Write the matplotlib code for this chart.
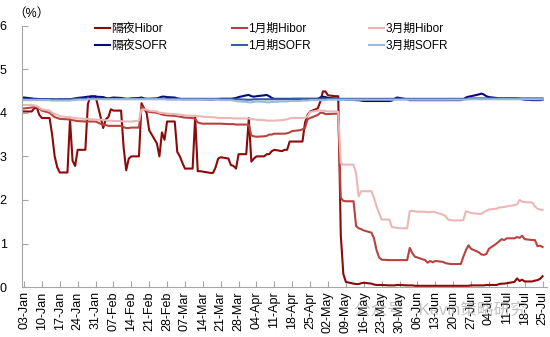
import matplotlib
matplotlib.use('Agg')
import matplotlib.pyplot as plt
import matplotlib.dates as mdates
import pandas as pd

plt.rcParams['font.family'] = ['Liberation Sans', 'Noto Sans CJK SC', 'DejaVu Sans']

# business days, 03-Jan-2025 .. 25-Jul-2025
dates = pd.bdate_range('2025-01-03', '2025-07-25')

hibor_on = [
    4.03, 4.03, 4.10, 4.12, 3.95, 3.88, 3.88, 3.50, 3.00, 2.75,
    2.63, 2.63, 3.85, 2.90, 2.78, 3.15, 3.15, 4.20, 4.38, 4.38,
    4.38, 3.65, 3.85, 3.90, 4.08, 4.05, 4.05, 3.20, 2.68, 2.95,
    3.00, 3.00, 4.22, 4.10, 4.00, 3.60, 3.30, 3.00, 3.55, 3.38,
    3.80, 3.80, 3.10, 3.00, 2.85, 2.72, 2.72, 3.90, 2.66, 2.66,
    2.65, 2.62, 2.62, 2.75, 2.95, 2.98, 2.95, 2.80, 2.78, 2.72,
    3.05, 3.05, 3.88, 2.88, 2.95, 3.00, 3.00, 3.05, 3.05, 3.12,
    3.15, 3.12, 3.15, 3.15, 3.34, 3.34, 3.34, 3.34, 3.77, 3.95,
    4.03, 4.10, 4.26, 4.49, 4.49, 4.40, 4.38, 4.38, 1.20, 0.30,
    0.12, 0.08, 0.07, 0.07, 0.09, 0.10, 0.08, 0.06, 0.05, 0.05,
    0.05, 0.04, 0.04, 0.04, 0.05, 0.05, 0.04, 0.04, 0.04, 0.03,
    0.03, 0.03, 0.03, 0.03, 0.03, 0.03, 0.03, 0.03, 0.03, 0.03,
    0.03, 0.03, 0.03, 0.03, 0.03, 0.04, 0.04, 0.04, 0.04, 0.05,
    0.05, 0.05, 0.07, 0.08, 0.08, 0.09, 0.12, 0.20, 0.14, 0.17,
    0.13, 0.13, 0.15, 0.16, 0.19, 0.25,
]
hibor_1m = [
    4.10, 4.12, 4.13, 4.13, 4.10, 4.05, 4.00, 3.95, 3.90, 3.88,
    3.86, 3.85, 3.84, 3.83, 3.82, 3.81, 3.80, 3.80, 3.80, 3.80,
    3.80, 3.72, 3.72, 3.70, 3.70, 3.70, 3.70, 3.67, 3.65, 3.65,
    3.66, 3.66, 4.15, 4.08, 4.05, 4.02, 4.00, 3.98, 3.96, 3.95,
    3.94, 3.93, 3.92, 3.91, 3.90, 3.89, 3.88, 3.86, 3.78, 3.76,
    3.75, 3.75, 3.75, 3.75, 3.75, 3.75, 3.74, 3.74, 3.74, 3.73,
    3.73, 3.73, 3.72, 3.48, 3.46, 3.45, 3.46, 3.47, 3.50, 3.50,
    3.52, 3.52, 3.52, 3.53, 3.55, 3.58, 3.60, 3.62, 3.65, 3.85,
    3.88, 3.95, 4.00, 4.00, 3.97, 3.97, 3.98, 3.98, 2.05, 1.98,
    1.97, 1.97, 1.40, 1.35, 1.33, 1.30, 1.25, 1.12, 0.85, 0.68,
    0.63, 0.62, 0.62, 0.62, 0.62, 0.62, 0.62, 0.90, 0.78, 0.70,
    0.68, 0.62, 0.56, 0.60, 0.57, 0.60, 0.58, 0.55, 0.54, 0.53,
    0.53, 0.53, 0.70, 0.85, 0.96, 0.88, 0.80, 0.75, 0.74, 0.76,
    0.88, 1.00, 1.05, 1.10, 1.08, 1.12, 1.12, 1.15, 1.13, 1.18,
    1.10, 1.08, 1.08, 0.94, 0.95, 0.92,
]
hibor_3m = [
    4.18, 4.18, 4.17, 4.15, 4.12, 4.08, 4.05, 4.00, 3.97, 3.95,
    3.92, 3.90, 3.90, 3.89, 3.88, 3.87, 3.86, 3.86, 3.85, 3.85,
    3.84, 3.84, 3.83, 3.82, 3.82, 3.81, 3.81, 3.80, 3.80, 3.80,
    3.80, 3.82, 4.07, 4.08, 4.07, 4.05, 4.03, 4.00, 4.00, 3.99,
    3.98, 3.97, 3.96, 3.95, 3.95, 3.94, 3.93, 3.93, 3.92, 3.92,
    3.91, 3.90, 3.90, 3.89, 3.88, 3.88, 3.88, 3.88, 3.87, 3.87,
    3.87, 3.87, 3.87, 3.86, 3.85, 3.84, 3.83, 3.82, 3.82, 3.82,
    3.82, 3.83, 3.84, 3.85, 3.87, 3.88, 3.88, 3.88, 3.88, 3.92,
    4.02, 4.05, 4.05, 4.05, 4.04, 4.03, 4.03, 4.02, 2.85, 2.81,
    2.81, 2.81, 2.60, 2.08, 2.20, 2.20, 2.20, 2.05, 1.85, 1.70,
    1.55, 1.55, 1.38, 1.37, 1.36, 1.35, 1.35, 1.74, 1.75, 1.74,
    1.73, 1.73, 1.72, 1.72, 1.73, 1.72, 1.66, 1.63, 1.55, 1.54,
    1.53, 1.53, 1.54, 1.74, 1.72, 1.70, 1.68, 1.68, 1.72, 1.75,
    1.78, 1.80, 1.83, 1.83, 1.84, 1.85, 1.88, 1.90, 2.00, 1.96,
    1.95, 1.94, 1.85, 1.80, 1.78, 1.77,
]
sofr_on = [
    4.35, 4.33, 4.32, 4.32, 4.31, 4.31, 4.31, 4.31, 4.30, 4.30,
    4.31, 4.31, 4.31, 4.32, 4.33, 4.34, 4.36, 4.37, 4.37, 4.37,
    4.37, 4.36, 4.34, 4.33, 4.34, 4.35, 4.34, 4.33, 4.32, 4.32,
    4.33, 4.34, 4.35, 4.33, 4.32, 4.32, 4.33, 4.35, 4.37, 4.37,
    4.36, 4.35, 4.33, 4.32, 4.31, 4.31, 4.31, 4.31, 4.31, 4.31,
    4.31, 4.30, 4.30, 4.31, 4.31, 4.32, 4.32, 4.32, 4.33, 4.34,
    4.36, 4.40, 4.41, 4.38, 4.37, 4.38, 4.40, 4.41, 4.38, 4.34,
    4.32, 4.32, 4.32, 4.32, 4.32, 4.32, 4.32, 4.32, 4.32, 4.32,
    4.32, 4.32, 4.35, 4.37, 4.36, 4.34, 4.33, 4.32, 4.31, 4.31,
    4.30, 4.30, 4.29, 4.29, 4.28, 4.27, 4.27, 4.27, 4.27, 4.27,
    4.27, 4.27, 4.28, 4.32, 4.35, 4.34, 4.31, 4.29, 4.29, 4.29,
    4.29, 4.29, 4.29, 4.29, 4.29, 4.29, 4.29, 4.29, 4.29, 4.29,
    4.29, 4.29, 4.31, 4.35, 4.37, 4.38, 4.42, 4.44, 4.42, 4.38,
    4.36, 4.34, 4.33, 4.33, 4.33, 4.33, 4.33, 4.33, 4.32, 4.31,
    4.30, 4.29, 4.29, 4.29, 4.29, 4.30,
]
sofr_1m = [
    4.31, 4.31, 4.31, 4.31, 4.31, 4.31, 4.31, 4.31, 4.31, 4.31,
    4.31, 4.31, 4.31, 4.31, 4.32, 4.32, 4.32, 4.32, 4.32, 4.32,
    4.32, 4.32, 4.32, 4.32, 4.32, 4.32, 4.32, 4.32, 4.32, 4.32,
    4.32, 4.32, 4.32, 4.32, 4.32, 4.32, 4.32, 4.32, 4.32, 4.32,
    4.32, 4.32, 4.32, 4.32, 4.32, 4.32, 4.32, 4.32, 4.32, 4.32,
    4.32, 4.32, 4.32, 4.32, 4.32, 4.32, 4.32, 4.32, 4.31, 4.31,
    4.31, 4.30, 4.30, 4.30, 4.31, 4.31, 4.31, 4.31, 4.31, 4.31,
    4.31, 4.31, 4.31, 4.31, 4.31, 4.32, 4.32, 4.32, 4.32, 4.32,
    4.32, 4.32, 4.32, 4.32, 4.32, 4.32, 4.32, 4.32, 4.32, 4.32,
    4.32, 4.32, 4.32, 4.32, 4.32, 4.32, 4.32, 4.32, 4.32, 4.32,
    4.32, 4.32, 4.32, 4.32, 4.32, 4.32, 4.32, 4.32, 4.32, 4.32,
    4.32, 4.32, 4.32, 4.32, 4.32, 4.32, 4.32, 4.32, 4.32, 4.32,
    4.32, 4.32, 4.32, 4.32, 4.33, 4.33, 4.33, 4.33, 4.33, 4.33,
    4.33, 4.33, 4.33, 4.33, 4.33, 4.33, 4.33, 4.33, 4.33, 4.33,
    4.33, 4.33, 4.33, 4.33, 4.33, 4.33,
]
sofr_3m = [
    4.29, 4.29, 4.29, 4.29, 4.29, 4.29, 4.29, 4.28, 4.28, 4.28,
    4.28, 4.28, 4.28, 4.29, 4.29, 4.30, 4.30, 4.31, 4.31, 4.31,
    4.31, 4.31, 4.31, 4.31, 4.31, 4.31, 4.31, 4.31, 4.31, 4.31,
    4.31, 4.31, 4.31, 4.31, 4.31, 4.31, 4.31, 4.31, 4.31, 4.31,
    4.30, 4.30, 4.30, 4.30, 4.30, 4.30, 4.30, 4.30, 4.30, 4.30,
    4.30, 4.30, 4.30, 4.30, 4.30, 4.29, 4.29, 4.29, 4.28, 4.27,
    4.26, 4.25, 4.24, 4.24, 4.25, 4.26, 4.25, 4.24, 4.24, 4.25,
    4.25, 4.26, 4.26, 4.26, 4.27, 4.27, 4.27, 4.28, 4.28, 4.28,
    4.29, 4.29, 4.29, 4.29, 4.29, 4.30, 4.30, 4.30, 4.30, 4.30,
    4.30, 4.30, 4.30, 4.30, 4.30, 4.30, 4.30, 4.30, 4.30, 4.30,
    4.30, 4.30, 4.30, 4.30, 4.30, 4.30, 4.30, 4.30, 4.30, 4.30,
    4.30, 4.30, 4.30, 4.30, 4.30, 4.30, 4.30, 4.30, 4.30, 4.30,
    4.30, 4.30, 4.30, 4.30, 4.31, 4.31, 4.31, 4.31, 4.31, 4.31,
    4.31, 4.31, 4.31, 4.31, 4.31, 4.31, 4.31, 4.31, 4.31, 4.31,
    4.31, 4.31, 4.31, 4.31, 4.31, 4.31,
]

labels = ['隔夜Hibor', '1月期Hibor', '3月期Hibor', '隔夜SOFR', '1月期SOFR', '3月期SOFR']
colors = ['#8B0A0A', '#B8423F', '#EBB7B5', '#0A0A80', '#35609C', '#9DB9DF']
series = [hibor_on, hibor_1m, hibor_3m, sofr_on, sofr_1m, sofr_3m]

fig = plt.figure(figsize=(5.5, 3.37), dpi=100)
ax = fig.add_axes([0.04, 0.148, 0.955, 0.776])

lines = []
for vals, lab, col in zip(series, labels, colors):
    ln, = ax.plot(dates, vals, color=col, lw=1.5, label=lab)
    lines.append(ln)

ax.set_ylim(0, 6)
ax.set_yticks(range(7))
ax.set_xlim(pd.Timestamp('2025-01-02 05:00'), pd.Timestamp('2025-07-26 20:00'))
ax.set_xticks(pd.date_range('2025-01-03', '2025-07-25', freq='7D'))
ax.xaxis.set_major_formatter(mdates.DateFormatter('%d-%b'))
for lab in ax.get_xticklabels():
    lab.set_rotation(90)

for s in ['top', 'right']:
    ax.spines[s].set_visible(False)
for s in ['left', 'bottom']:
    ax.spines[s].set_color('#A6A6A6')
ax.tick_params(axis='both', direction='in', length=4, color='#A6A6A6', labelsize=9)
ax.tick_params(axis='y', pad=11)
ax.tick_params(axis='x', pad=3)

# legend, three columns placed by hand
col_x = [95, 232, 369]
for k, x in enumerate(col_x):
    fig.legend(handles=[lines[k], lines[k + 3]], loc='upper left',
               bbox_to_anchor=(x / 550, 1 - 23 / 337), frameon=False,
               fontsize=8.5, handlelength=1.3, handletextpad=0.1,
               labelspacing=0.45, borderpad=0, borderaxespad=0)

fig.text(13 / 550, 1 - 14 / 337, '（%）', ha='left', va='center', fontsize=9)
fig.text(0.80, 0.08, '公众号 · Kevin策略研究', ha='center', va='center',
         fontsize=12, color='#888888', alpha=0.5)

fig.savefig('out.png', dpi=100)
